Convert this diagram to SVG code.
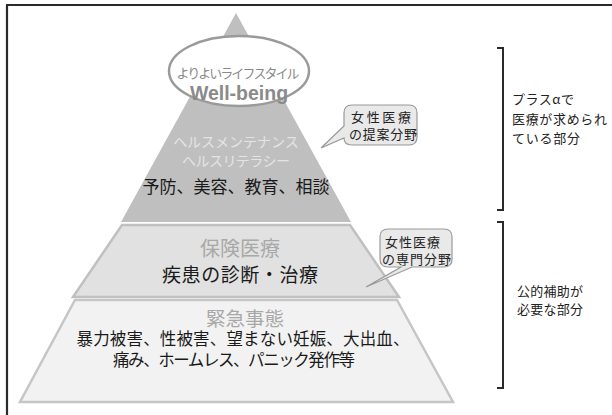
<svg xmlns="http://www.w3.org/2000/svg" width="612" height="415" viewBox="0 0 612 415">
<style>
text{font-family:"Noto Sans CJK JP","Noto Sans",sans-serif}
.blk{fill:#1a1a1a}
.gry{fill:#a8a8a8}
.lt{fill:#e4e4e4}
.side{fill:#222;font-size:13px}
.call{fill:#222;font-size:13px}
.callout{fill:#e9e9e9;stroke:#9a9a9a;stroke-width:1.2}
.brk{fill:none;stroke:#2a2a2a;stroke-width:2}
</style>
<rect width="612" height="415" fill="#fff"/>
<g id="frame">
<path d="M6,5 H612 M7,5 V415" fill="none" stroke="#2a2a2a" stroke-width="2.2"/>
</g>
<g id="tier-top">
<polygon points="236,13 121,222 351,222" fill="#bfbfbf"/>
<text x="236" y="147" class="lt" font-size="14" text-anchor="middle">ヘルスメンテナンス</text>
<text x="236" y="166" class="lt" font-size="14" text-anchor="middle" textLength="108">ヘルスリテラシー</text>
<text x="236" y="193" class="blk" font-size="17" text-anchor="middle">予防、美容、教育、相談</text>
</g>
<g id="wellbeing">
<ellipse cx="239" cy="71" rx="70" ry="35" fill="#fff" stroke="#9a9a9a" stroke-width="2.5"/>
<text x="238" y="78" fill="#8a8a8a" font-size="13" text-anchor="middle" textLength="123">よりよいライフスタイル</text>
<text x="239" y="100" fill="#8a8a8a" font-size="19.5" font-weight="bold" text-anchor="middle" style="font-family:'Liberation Sans',Arial,sans-serif">Well-being</text>
</g>
<g id="tier-middle">
<polygon points="122,225 350,225 399,297 73,297" fill="#e1e1e1" stroke="#c0c0c0" stroke-width="2.5"/>
<text x="240" y="256" class="gry" font-size="20" text-anchor="middle">保険医療</text>
<text x="240" y="282" class="blk" font-size="19" text-anchor="middle" textLength="156">疾患の診断・治療</text>
</g>
<g id="tier-bottom">
<polygon points="75,300 397,300 453,402 20,402" fill="#f2f2f2" stroke="#c6c6c6" stroke-width="2.5"/>
<text x="245" y="326" class="gry" font-size="19.5" text-anchor="middle">緊急事態</text>
<text x="243" y="345" class="blk" font-size="16.5" text-anchor="middle" textLength="333">暴力被害、性被害、望まない妊娠、大出血、</text>
<text x="234" y="366" class="blk" font-size="16.5" text-anchor="middle" textLength="242">痛み、ホームレス、パニック発作等</text>
</g>
<g id="callout-proposal">
<path class="callout" d="M352,105 H409 Q417,105 417,113 V137 Q417,145 409,145 H352 Q344,145 344,138 L321,148 L344,126 V113 Q344,105 352,105 Z"/>
<text x="351" y="122" class="call" textLength="60">女性医療</text>
<text x="349" y="139" class="call" textLength="68">の提案分野</text>
</g>
<g id="callout-specialty">
<path class="callout" d="M388,229 H444 Q452,229 452,237 V259 Q452,267 444,267 H412 L366,287 L401,267 H388 Q380,267 380,259 V237 Q380,229 388,229 Z"/>
<text x="385" y="247" class="call" textLength="55">女性医療</text>
<text x="382" y="264" class="call" textLength="69">の専門分野</text>
</g>
<g id="connectors">
<path class="brk" d="M497,48 H503 V210 H497"/>
<path class="brk" d="M497,222 H503 V388 H497"/>
</g>
<g id="label-plus">
<text x="512" y="104" class="side" textLength="62">プラスαで</text>
<text x="512" y="124" class="side" textLength="95">医療が求められ</text>
<text x="512" y="143" class="side" textLength="68">ている部分</text>
</g>
<g id="label-public">
<text x="517" y="296" class="side" textLength="66">公的補助が</text>
<text x="517" y="314" class="side" textLength="66">必要な部分</text>
</g>
</svg>
